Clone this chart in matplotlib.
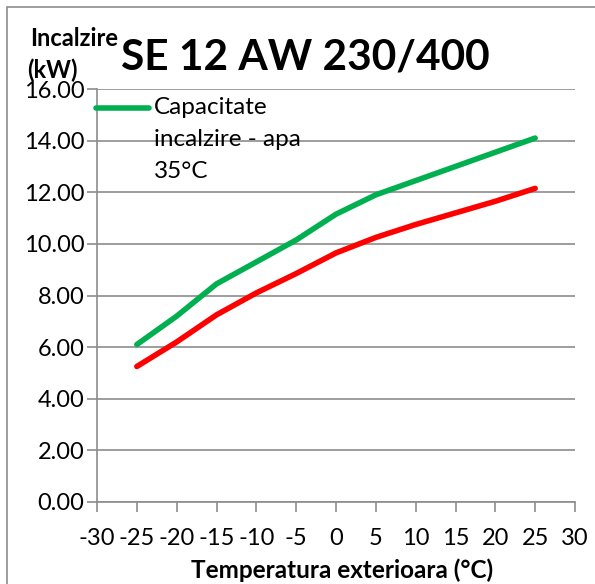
import matplotlib
matplotlib.use("Agg")
import matplotlib.pyplot as plt
from matplotlib.lines import Line2D
from matplotlib.patches import Rectangle

# ---- data ----
temps = [-25, -20, -15, -10, -5, 0, 5, 10, 15, 20, 25]
capacity_35 = [6.10, 7.20, 8.45, 9.30, 10.15, 11.15, 11.90, 12.45, 13.00, 13.55, 14.10]
capacity_red = [5.25, 6.20, 7.25, 8.10, 8.85, 9.65, 10.25, 10.75, 11.20, 11.65, 12.15]
x_ticks = [-30, -25, -20, -15, -10, -5, 0, 5, 10, 15, 20, 25, 30]
y_ticks = [0, 2, 4, 6, 8, 10, 12, 14, 16]
title = "SE 12 AW 230/400"
x_title = "Temperatura exterioara (\u00b0C)"
legend_lines = ["Capacitate", "incalzire - apa", "35\u00b0C"]

plt.rcParams['font.family'] = ['Lato', 'DejaVu Sans']

W, H = 595, 584
fig = plt.figure(figsize=(W / 100, H / 100), dpi=100)

def fx(px):
    return px / W

def fy(py):
    return 1 - py / H

gray = "#8c8c8c"

# outer chart border
fig.add_artist(Rectangle((fx(7), -0.1), 1.2, fy(7) + 0.1, transform=fig.transFigure,
                         fill=False, edgecolor=gray, linewidth=1.2))

ax = fig.add_axes([fx(97), fy(502), fx(575) - fx(97), fy(89) - fy(502)])
ax.set_xlim(-30, 30)
ax.set_ylim(0, 16)
ax.set_xticks(x_ticks)
ax.set_yticks(y_ticks)
ax.set_xticklabels([str(v) for v in x_ticks])
ax.set_yticklabels([f"{v:.2f}" for v in y_ticks])
ax.tick_params(axis='both', labelsize=17, colors=gray, labelcolor='black',
               length=7, width=1.2, direction='out')
ax.tick_params(axis='x', pad=12)
ax.tick_params(axis='y', pad=2)

for s in ['top', 'right']:
    ax.spines[s].set_visible(False)
for s in ['left', 'bottom']:
    ax.spines[s].set_color(gray)
    ax.spines[s].set_linewidth(1.2)

ax.yaxis.grid(True, color=gray, linewidth=1.2)
ax.set_axisbelow(True)

ax.plot(temps, capacity_35, color="#00B050", linewidth=4.0, solid_capstyle='round',
        solid_joinstyle='round', clip_on=False)
ax.plot(temps, capacity_red, color="#FF0000", linewidth=4.0, solid_capstyle='round',
        solid_joinstyle='round', clip_on=False)

# legend (manual)
fig.add_artist(Line2D([fx(96), fx(149)], [fy(108), fy(108)], transform=fig.transFigure,
                      color="#00B050", linewidth=4.0, solid_capstyle='round'))
for i, line in enumerate(legend_lines):
    fig.text(fx(154), fy(107 + 32 * i), line, ha='left', va='center', fontsize=17.5)

# titles
fig.text(fx(305), fy(58), title, ha='center', va='center', fontsize=30.5,
         fontweight='bold')
fig.text(fx(74), fy(38), "Incalzire", ha='center', va='center', fontsize=17,
         fontweight='bold')
fig.text(fx(52), fy(70), "(kW)", ha='center', va='center', fontsize=17,
         fontweight='bold')
fig.text(fx(342), fy(570), x_title, ha='center', va='center', fontsize=17.5,
         fontweight='bold')

fig.savefig("out.png", dpi=100)
